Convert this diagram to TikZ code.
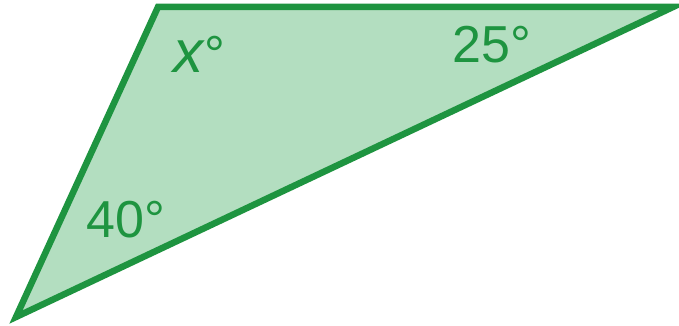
\documentclass[tikz,border=0pt]{standalone}
\usepackage{fontspec}
\setmainfont{Liberation Sans}
\definecolor{gstroke}{HTML}{1E9440}
\definecolor{gfill}{HTML}{B3DEC0}
\tikzset{
  tri/.style={draw=gstroke, fill=gfill, line width=6.5pt, line join=miter},
  anglabel/.style={anchor=base west, inner sep=0pt, text=gstroke, font=\fontsize{52}{52}\selectfont}
}
\begin{document}
\begin{tikzpicture}[x=1pt,y=-1pt]
\useasboundingbox (0,0) rectangle (679,326);
\coordinate (A) at (158,7);
\coordinate (B) at (673,7);
\coordinate (C) at (16,317);
\draw[tri] (A) -- (B) -- (C) -- cycle;
\node[anglabel] (lx) at (173,73) {{\fontsize{60}{60}\selectfont\textit{x}}\textdegree};
\node[anglabel] (l25) at (452,63) {25\textdegree};
\node[anglabel] (l40) at (86,237) {40\textdegree};
\end{tikzpicture}
\end{document}
